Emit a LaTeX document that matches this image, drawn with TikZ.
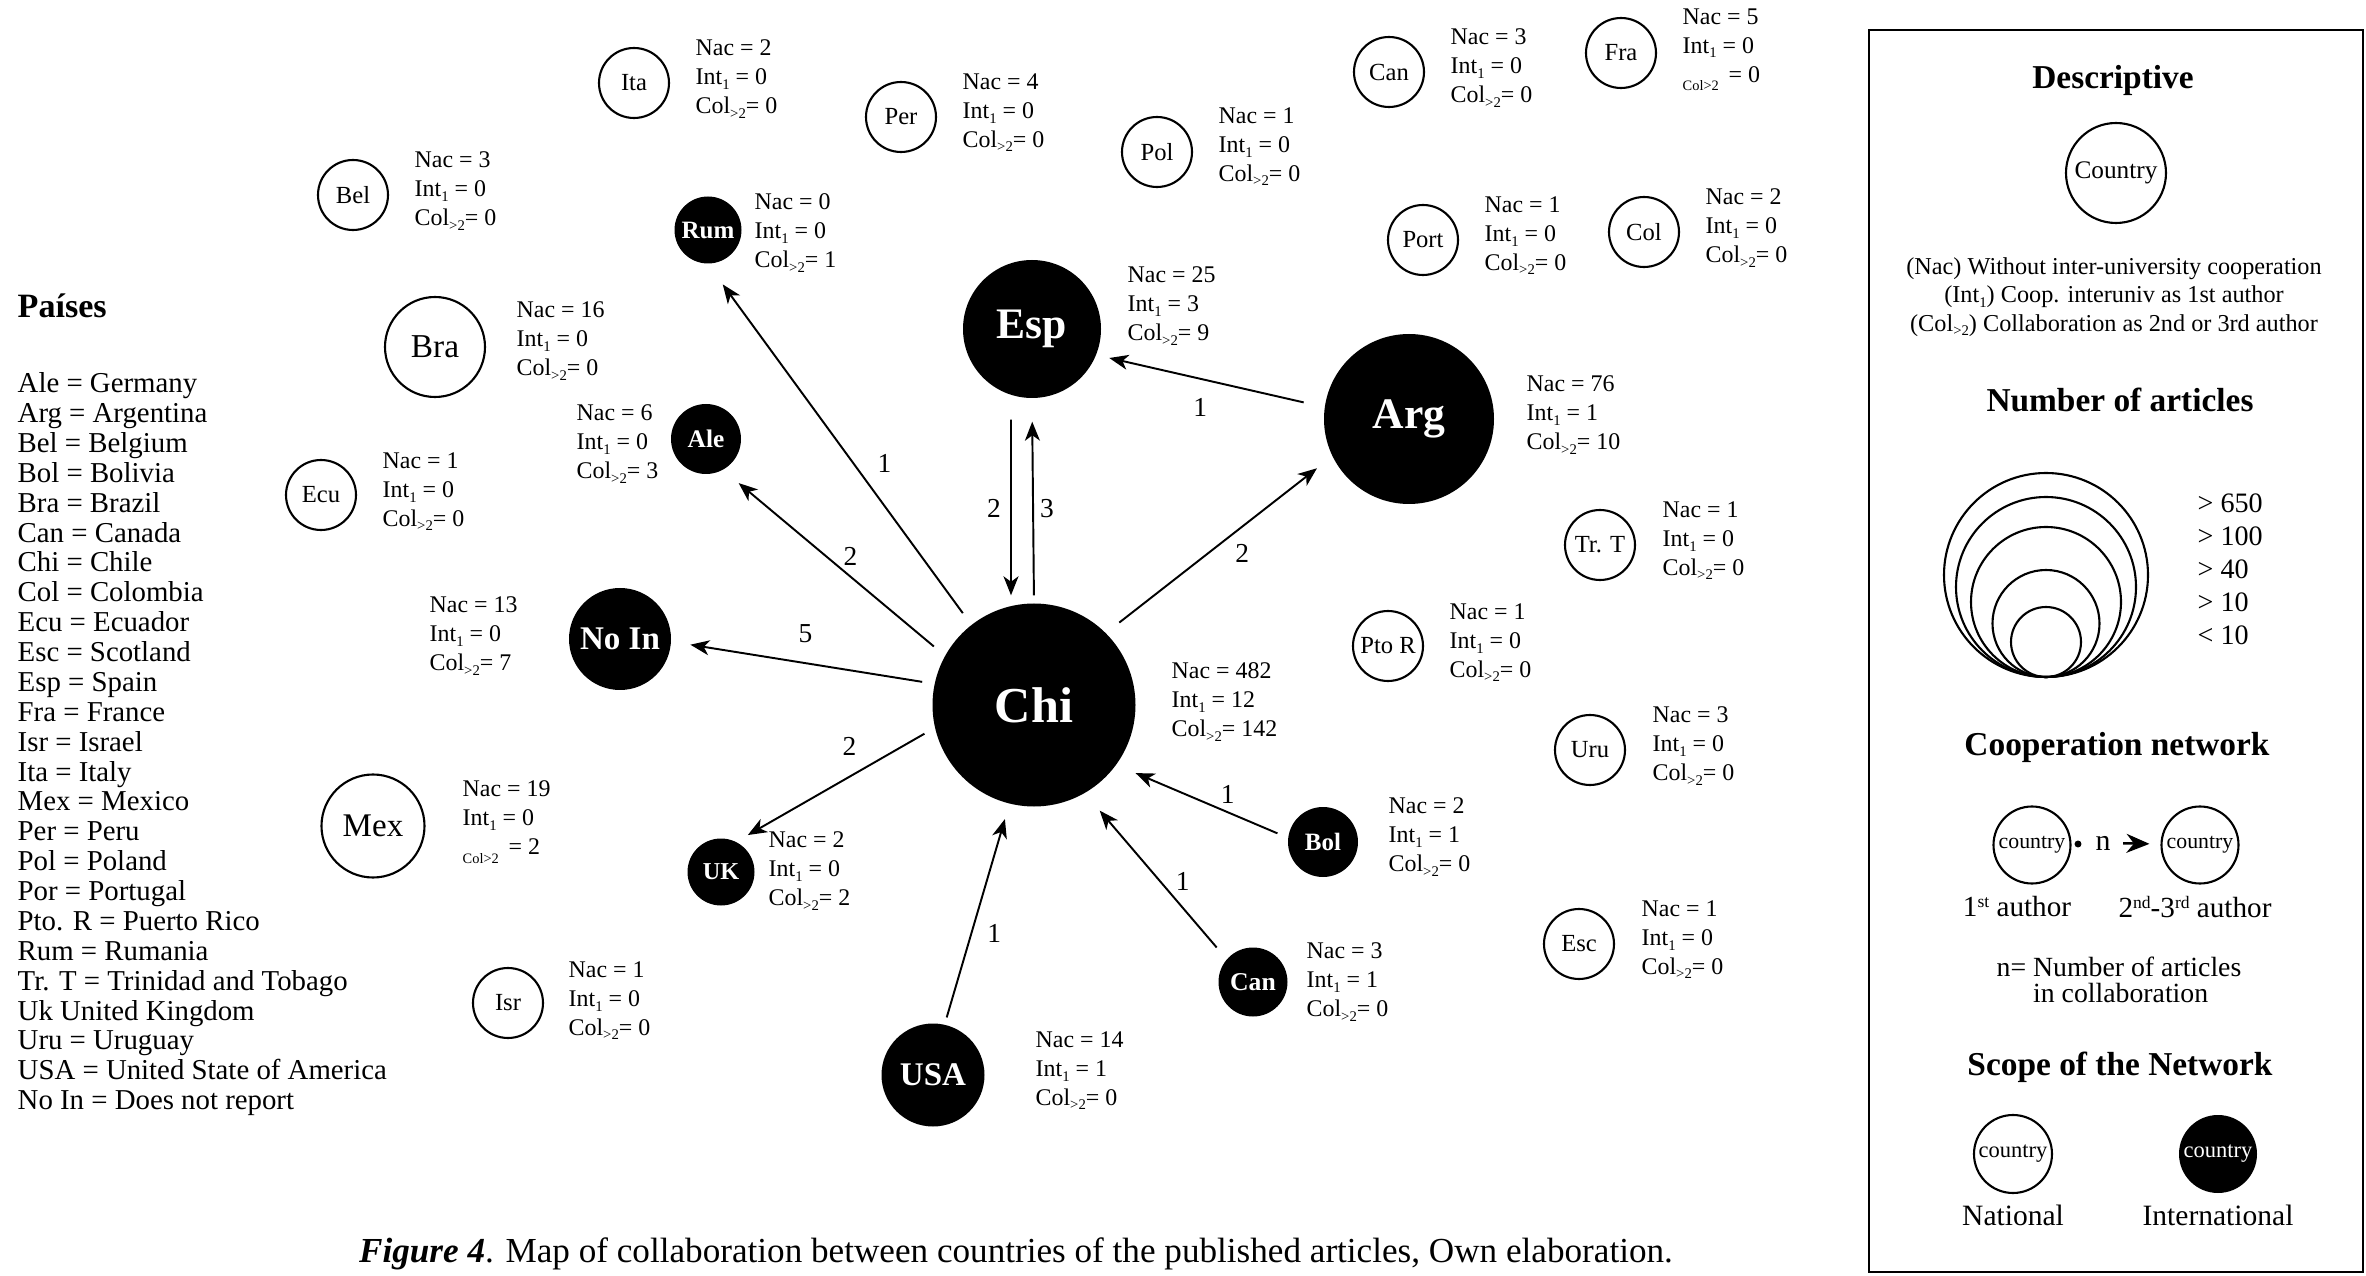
\documentclass[tikz,border=0pt]{standalone}
\usepackage{fontspec}
\setmainfont{Liberation Serif}
\usetikzlibrary{arrows.meta}

\newcommand{\fsz}[2]{\fontsize{#1}{#2}\selectfont}
\newcommand{\lo}[1]{\raisebox{-1.3pt}{\fsz{4.2}{5}#1}}
\newcommand{\hi}[1]{\raisebox{2.8pt}{\fsz{5}{6}#1}}
\newcommand{\stats}[3]{Nac = #1\\Int\lo{1} = #2\\Col\lo{>2}= #3}

\tikzset{
	natl/.style={circle, draw, line width=0.6pt, inner sep=0pt, minimum size=#1, font=\fsz{7}{8}},
	natl/.default=0.70cm,
	intl/.style={circle, fill=black, text=white, inner sep=0pt, minimum size=#1, font=\fsz{7.1}{8}\bfseries},
	intl/.default=0.69cm,
	stat/.style={anchor=west, align=left, inner sep=0pt, font=\fsz{6.8}{8.2}},
	link/.style={-{Stealth[length=1.9mm,width=1.5mm,inset=0.55mm]}, line width=0.55pt},
	num/.style={inner sep=0pt, font=\fsz{7.8}{9}},
	head/.style={inner sep=0pt, font=\fsz{9.5}{11}\bfseries},
}

\begin{document}
\begin{tikzpicture}
		\useasboundingbox (0,0) rectangle (23.66,12.75);
		% countries with international cooperation
		\node [intl=2.03cm, font=\fsz{14.3}{16}\bfseries] (chi) at (10.34,5.70) {Chi};
		\node [intl=1.38cm, font=\fsz{12.4}{14}\bfseries] (esp) at (10.32,9.46) {Esp};
		\node [intl=1.70cm, font=\fsz{12.4}{14}\bfseries] (arg) at (14.09,8.56) {Arg};
		\node [intl=1.02cm, font=\fsz{9.4}{11}\bfseries] (noin) at (6.20,6.36) {No In};
		\node [intl=0.70cm, font=\fsz{7.2}{8}\bfseries] (ale) at (7.06,8.36) {Ale};
		\node [intl=0.67cm] (rum) at (7.08,10.45) {Rum};
		\node [intl=0.67cm, font=\fsz{6.9}{8}\bfseries] (uk) at (7.21,4.03) {UK};
		\node [intl=1.03cm, font=\fsz{9.4}{11}\bfseries] (usa) at (9.33,2.00) {USA};
		\node [intl=0.69cm, font=\fsz{7.3}{8}\bfseries] (canb) at (12.53,2.93) {Can};
		\node [intl=0.70cm] (bol) at (13.23,4.33) {Bol};
		% national countries
		\foreach \nm/\x/\y/\lbl in {ita/6.34/11.92/Ita, per/9.01/11.58/Per, pol/11.57/11.23/Pol,
			canw/13.89/12.03/Can, fra/16.21/12.22/Fra, port/14.23/10.35/Port, col/16.44/10.43/Col,
			bel/3.53/10.80/Bel, ecu/3.21/7.80/Ecu, isr/5.08/2.72/Isr, trt/16.00/7.30/Tr. T,
			ptor/13.88/6.29/Pto R, uru/15.90/5.25/Uru, esc/15.79/3.31/Esc}
			\node [natl] (\nm) at (\x,\y) {\lbl};
		\node [natl=1.00cm, font=\fsz{9.5}{11}] (bra) at (4.35,9.28) {Bra};
		\node [natl=1.03cm, font=\fsz{9.4}{11}] (mex) at (3.73,4.49) {Mex};
		% counts next to each country
		\foreach \nm/\x/\y/\a/\b/\c in {ita/6.95/11.96/2/0/0, per/9.62/11.62/4/0/0, pol/12.18/11.28/1/0/0,
			canw/14.50/12.07/3/0/0, port/14.84/10.39/1/0/0, col/17.05/10.47/2/0/0,
			bel/4.14/10.84/3/0/0, rum/7.54/10.42/0/0/1, esp/11.27/9.69/25/3/9,
			bra/5.16/9.34/16/0/0, ale/5.76/8.31/6/0/3, ecu/3.82/7.83/1/0/0,
			arg/15.26/8.60/76/1/10, trt/16.62/7.34/1/0/0, noin/4.29/6.39/13/0/7,
			ptor/14.49/6.32/1/0/0, chi/11.71/5.73/482/12/142, uru/16.52/5.29/3/0/0,
			uk/7.68/4.04/2/0/2, bol/13.88/4.38/2/1/0, esc/16.41/3.35/1/0/0,
			canb/13.06/2.93/3/1/0, isr/5.68/2.74/1/0/0, usa/10.35/2.04/14/1/0}
			\node [stat] (\nm-st) at (\x,\y) {\stats{\a}{\b}{\c}};
		\node [stat] (fra-st) at (16.82,12.25) {Nac = 5\\Int\lo{1} = 0\\\raisebox{-2.5pt}{\fsz{4.1}{5}Col>2}\hspace{2.8pt}= 0};
		\node [stat] (mex-st) at (4.62,4.53) {Nac = 19\\Int\lo{1} = 0\\\raisebox{-2.5pt}{\fsz{4.1}{5}Col>2}\hspace{2.8pt}= 2};
		% cooperation links
		\draw [link, shorten <=1.4mm, shorten >=2.5mm] (chi.128) -- node [num, pos=.405, xshift=2mm, yshift=1.5mm] (l-rum) {1} (rum.-90);
		\draw [link, shorten <=1.4mm, shorten >=2mm] (chi.151.7) -- node [num, pos=.471, xshift=1mm, yshift=1.2mm] (l-ale) {2} (ale.-61.6);
		\draw [link, shorten <=1.2mm, shorten >=1.9mm] (chi.168.3) -- node [num, pos=.509, xshift=.5mm, yshift=2.9mm] (l-noin) {5} (noin.-3.3);
		\draw [link, shorten <=1.15mm, shorten >=1.3mm] (chi.193.3) -- node [num, pos=.364, xshift=-1.3mm, yshift=2.3mm] (l-uk) {2} (uk.63.4);
		\draw [link, shorten <=.7mm, shorten >=1.55mm] (usa.77.2) -- node [num, pos=.441, xshift=2.1mm, yshift=-.6mm] (l-usa) {1} (chi.-104.9);
		\draw [link, shorten <=1.5mm, shorten >=2.25mm] (canb.139.9) -- node [num, pos=.402, xshift=1.3mm, yshift=1.1mm] (l-canb) {1} (chi.-60.5);
		\draw [link, shorten <=1.1mm, shorten >=2.05mm] (bol.173.8) -- node [num, pos=.385, xshift=.6mm, yshift=1.5mm] (l-bol) {1} (chi.-36.7);
		\draw [link, shorten <=1.65mm, shorten >=1.9mm] (chi.45.3) -- node [num, pos=.545, xshift=1.3mm, yshift=-1.7mm] (l-arg) {2} (arg.-154.4);
		\draw [link, shorten <=2.1mm, shorten >=1.3mm] (arg.172.4) -- node [num, pos=.518, xshift=-.6mm, yshift=-2.7mm] (l-esp) {1} (esp.-22.2);
		\draw [link, shorten <=2.1mm, shorten >=.75mm] ([xshift=-2.1mm]esp.south) -- node [num, pos=.54, xshift=-1.7mm] (l-down) {2} ([xshift=-2.3mm]chi.north);
		\draw [link, shorten <=.75mm, shorten >=2.3mm] (chi.north) -- node [num, pos=.46, xshift=1.4mm] (l-up) {3} (esp.south);
		% list of countries
		\node [anchor=west, inner sep=0pt, font=\fsz{9.7}{11}\bfseries] (paises) at (0.17,9.69) {Países};
		\node [anchor=north west, align=left, inner sep=0pt, font=\fsz{8.2}{8.5}] (paises-list) at (0.17,9.03) {Ale = Germany\\Arg = Argentina\\Bel = Belgium\\Bol = Bolivia\\Bra = Brazil\\Can = Canada\\Chi = Chile\\Col = Colombia\\Ecu = Ecuador\\Esc = Scotland\\Esp = Spain\\Fra = France\\Isr = Israel\\Ita = Italy\\Mex = Mexico\\Per = Peru\\Pol = Poland\\Por = Portugal\\Pto. R = Puerto Rico\\Rum = Rumania\\Tr. T = Trinidad and Tobago\\Uk United Kingdom\\Uru = Uruguay\\USA = United State of America\\No In = Does not report};
		% legend box
		\draw [line width=0.8pt] (18.69,0.03) rectangle (23.63,12.45);
		\node [head] (desc) at (21.13,11.95) {Descriptive};
		\node [natl=1.00cm, font=\fsz{7.2}{8}] (ctry) at (21.16,11.02) {Country};
		\node [align=center, inner sep=0pt, font=\fsz{6.9}{8.1}] (desc-txt) at (21.14,9.78) {(Nac) Without inter-university cooperation\\(Int\lo{1}) Coop. interuniv as 1st author\\(Col\lo{>2}) Collaboration as 2nd or 3rd author};
		\node [head] (numart) at (21.20,8.75) {Number of articles};
		\foreach \d in {2.04,1.80,1.50,1.07,0.70}
			\draw [line width=0.6pt] (20.46,{5.98+\d/2}) circle [radius=\d/2];
		\foreach \lbl [count=\i] in {> 650, > 100, > 40, > 10, < 10}
			\node [anchor=west, inner sep=0pt, font=\fsz{8}{9}] (size\i) at (21.97,{8.05-0.33*\i}) {\lbl};
		\node [head] (coop) at (21.17,5.28) {Cooperation network};
		\node [natl=0.77cm, font=\fsz{6.2}{7}] (first) at (20.32,4.30) {country};
		\node [natl=0.77cm, font=\fsz{6.2}{7}] (second) at (22.00,4.30) {country};
		\node [circle, fill, inner sep=0.7pt] (dot) at (20.78,4.31) {};
		\node [inner sep=0pt, font=\fsz{8.5}{9}] (n) at (21.03,4.32) {n};
		\draw [-{Stealth[length=2.3mm,width=1.9mm]}, line width=0.7pt, shorten <=1.2mm, shorten >=1.1mm] (n.east) -- (second);
		\node [inner sep=0pt, font=\fsz{8.3}{9}] (first-lbl) at (20.17,3.68) {1\hi{st} author};
		\node [inner sep=0pt, font=\fsz{8.3}{9}] (second-lbl) at (21.95,3.68) {2\hi{nd}-3\hi{rd} author};
		\node [align=left, inner sep=0pt, font=\fsz{7.9}{7.4}] (n-def) at (21.19,2.95) {n= Number of articles\\\hphantom{n=} in collaboration};
		\node [head] (scope) at (21.20,2.08) {Scope of the Network};
		\node [natl=0.78cm, font=\fsz{6.4}{7}] (nat) at (20.13,1.21) {country};
		\node [intl=0.78cm, font=\fsz{6.4}{7}] (int) at (22.18,1.21) {country};
		\node [inner sep=0pt, font=\fsz{8.4}{9}] (nat-lbl) at (20.13,0.60) {National};
		\node [inner sep=0pt, font=\fsz{8.4}{9}] (int-lbl) at (22.18,0.60) {International};
		% caption
		\node [inner sep=0pt, font=\fsz{10}{12}] (caption) at (10.16,0.21) {\textbf{\textit{Figure 4}}. Map of collaboration between countries of the published articles, Own elaboration.};
	\end{tikzpicture}
\end{document}
